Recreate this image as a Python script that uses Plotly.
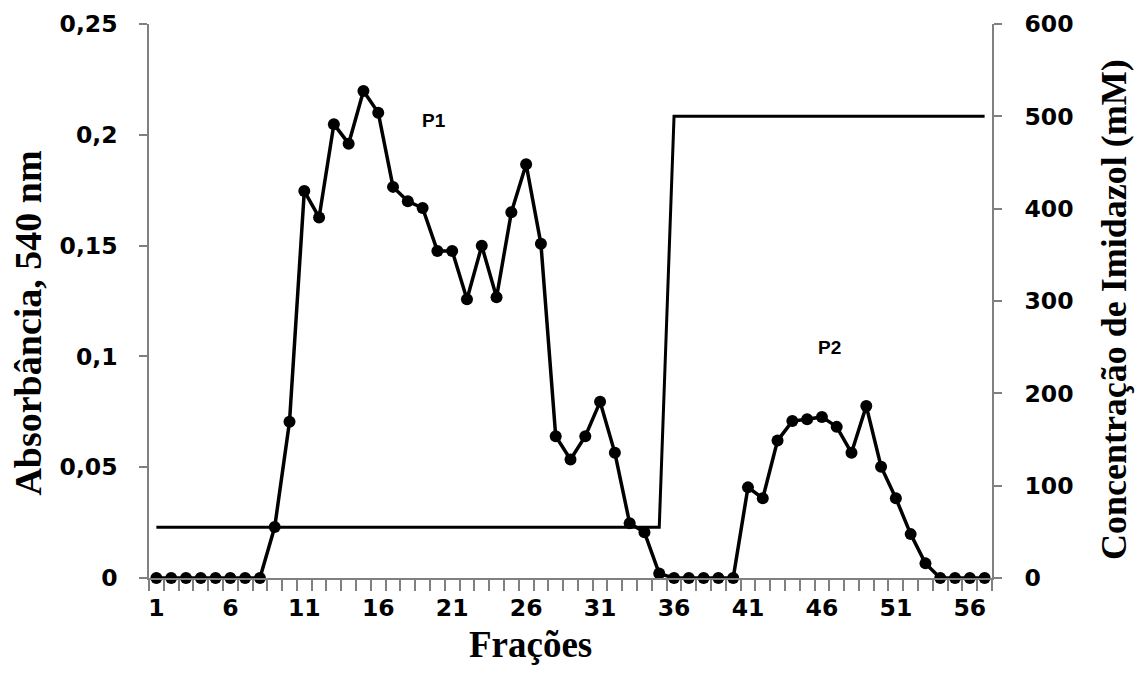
import numpy as np
import plotly.graph_objects as go

fractions = list(range(1, 58))
absorbance = [0, 0, 0, 0, 0, 0, 0, 0, 0.023, 0.0705,
              0.1746, 0.1627, 0.2048, 0.196, 0.2198, 0.210, 0.1765, 0.170, 0.167, 0.1476,
              0.1476, 0.1258, 0.1499, 0.1267, 0.165, 0.1867, 0.1508, 0.064, 0.0535, 0.064,
              0.0795, 0.0565, 0.0247, 0.0206, 0.002, 0, 0, 0, 0, 0,
              0.0409, 0.036, 0.062, 0.0708, 0.0716, 0.0727, 0.0682, 0.0565, 0.0776, 0.0502,
              0.036, 0.0198, 0.0066, 0, 0, 0, 0]
imidazole = [55] * 35 + [500] * 22

x_tickvals = [1, 6, 11, 16, 21, 26, 31, 36, 41, 46, 51, 56]
y_tickvals = [0, 0.05, 0.1, 0.15, 0.2, 0.25]
y_ticktext = ["0", "0,05", "0,1", "0,15", "0,2", "0,25"]
y2_tickvals = [0, 100, 200, 300, 400, 500, 600]

peak_labels = ["P1", "P2"]
peak_x = [19.8, 46.5]
peak_y = [0.2066, 0.104]

tick_font = dict(family="DejaVu Sans", size=23.5, color="black", weight="bold")
grey = "#808080"

fig = go.Figure()
fig.add_trace(go.Scatter(x=fractions, y=imidazole, yaxis="y2", mode="lines",
                         line=dict(color="black", width=3), showlegend=False,
                         cliponaxis=False))
fig.add_trace(go.Scatter(x=fractions, y=absorbance, mode="lines+markers",
                         line=dict(color="black", width=3.5),
                         marker=dict(color="black", size=12), showlegend=False,
                         cliponaxis=False))

for t, px, py in zip(peak_labels, peak_x, peak_y):
    fig.add_annotation(x=px, y=py, xref="x", yref="y", text="<b>%s</b>" % t,
                       showarrow=False,
                       font=dict(family="Liberation Sans", size=19, color="black"))

fig.add_annotation(x=0.453, y=-0.12, xref="paper", yref="paper", text="<b>Frações</b>",
                   showarrow=False, yanchor="middle",
                   font=dict(family="Liberation Serif", size=37, color="black"))
fig.add_annotation(x=-0.143, y=0.46, xref="paper", yref="paper",
                   text="<b>Absorbância, 540 nm</b>", textangle=-90,
                   showarrow=False, xanchor="center", yanchor="middle",
                   font=dict(family="Liberation Serif", size=38, color="black"))
fig.add_annotation(x=1.145, y=0.484, xref="paper", yref="paper",
                   text="<b>Concentração de Imidazol (mM)</b>", textangle=-90,
                   showarrow=False, xanchor="center", yanchor="middle",
                   font=dict(family="Liberation Serif", size=36, color="black"))

fig.update_layout(
    width=1136, height=683,
    margin=dict(l=149, r=144, t=24, b=105, autoexpand=False),
    paper_bgcolor="white", plot_bgcolor="white",
    xaxis=dict(range=[0.5, 57.5], tickmode="array", tickvals=x_tickvals,
               ticks="", showgrid=False, zeroline=False, automargin=False,
               showline=True, linecolor=grey, linewidth=1.5,
               tickfont=tick_font, ticklabelstandoff=8,
               minor=dict(tickmode="array", tickvals=list(np.arange(0.5, 58, 1.0)),
                          ticks="outside", ticklen=11, tickcolor=grey, tickwidth=1.5,
                          showgrid=False)),
    yaxis=dict(range=[0, 0.25], tickmode="array", tickvals=y_tickvals, ticktext=y_ticktext,
               ticks="outside", ticklen=8, tickcolor=grey, tickwidth=1.5, automargin=False,
               showgrid=False, zeroline=False, showline=True, linecolor=grey, linewidth=1.5,
               tickfont=tick_font, ticklabelstandoff=17),
    yaxis2=dict(range=[0, 600], tickmode="array", tickvals=y2_tickvals, overlaying="y",
                side="right", ticks="outside", ticklen=8, tickcolor=grey, tickwidth=1.5,
                automargin=False,
                showgrid=False, zeroline=False, showline=True, linecolor=grey, linewidth=1.5,
                tickfont=tick_font, ticklabelstandoff=18),
)

fig.write_html("out.html")
